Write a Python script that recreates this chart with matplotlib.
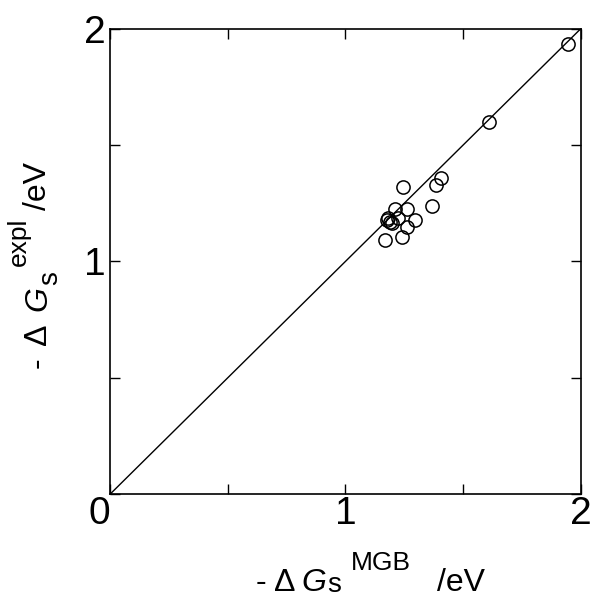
import matplotlib
matplotlib.use('Agg')
import matplotlib.pyplot as plt

# -dG_s (MGB calc) vs -dG_s (experiment), eV
dg_mgb = [1.948, 1.610, 1.405, 1.387, 1.366, 1.245, 1.210, 1.260, 1.295,
          1.175, 1.189, 1.222, 1.260, 1.168, 1.239, 1.200, 1.180]
dg_expl = [1.935, 1.600, 1.358, 1.329, 1.240, 1.319, 1.225, 1.225, 1.178,
           1.178, 1.171, 1.185, 1.150, 1.092, 1.104, 1.165, 1.185]
diag = [0, 2]

plt.rcParams['font.family'] = ['Liberation Sans', 'DejaVu Sans']

W, H = 595, 599
fig = plt.figure(figsize=(W / 100, H / 100), dpi=100)
ax = fig.add_axes([0.185, 0.175, 0.791, 0.777])

ax.plot(diag, diag, color='black', lw=1.0)
ax.plot(dg_mgb, dg_expl, 'o', mfc='none', mec='black', ms=9.5, mew=1.1)

ax.set_xlim(0, 2)
ax.set_ylim(0, 2)
ax.set_xticks([0, 0.5, 1, 1.5, 2])
ax.set_xticklabels(['0', '', '1', '', '2'])
ax.set_yticks([0, 0.5, 1, 1.5, 2])
ax.set_yticklabels(['', '', '1', '', '2'])
ax.tick_params(direction='in', length=7, width=1.0, top=True, right=True,
               labelsize=28)
ax.tick_params(axis='x', pad=1)
ax.tick_params(axis='y', pad=3)
ax.get_xticklabels()[0].set_ha('right')
for s in ax.spines.values():
    s.set_linewidth(1.2)


def px(x, y):
    return x / W, 1 - y / H


# x label:  - Δ G_s^MGB /eV  (pieces, pixel positions from the reference)
xl = [('-', 256, 591, 23, 'normal'), ('\u0394', 274, 591, 23, 'normal'),
      ('G', 301, 591, 23, 'italic'), ('s', 327, 592, 20, 'normal'),
      ('MGB', 351, 570, 19, 'normal'), ('/eV', 437, 591, 23, 'normal')]
for t, x, y, fs, st in xl:
    fig.text(*px(x, y), t, fontsize=fs, style=st, ha='left', va='baseline')

# y label, rotated, reading bottom to top
yl = [('-', 46, 368, 23, 'normal'), ('\u0394', 46, 345, 23, 'normal'),
      ('G', 46, 311, 23, 'italic'), ('s', 57, 285, 20, 'normal'),
      ('expl', 26, 266, 19, 'normal'), ('/eV', 46, 210, 23, 'normal')]
for t, x, y, fs, st in yl:
    fig.text(*px(x, y), t, fontsize=fs, style=st, ha='left', va='baseline',
             rotation=90, rotation_mode='anchor')

fig.savefig('out.png', dpi=100)
